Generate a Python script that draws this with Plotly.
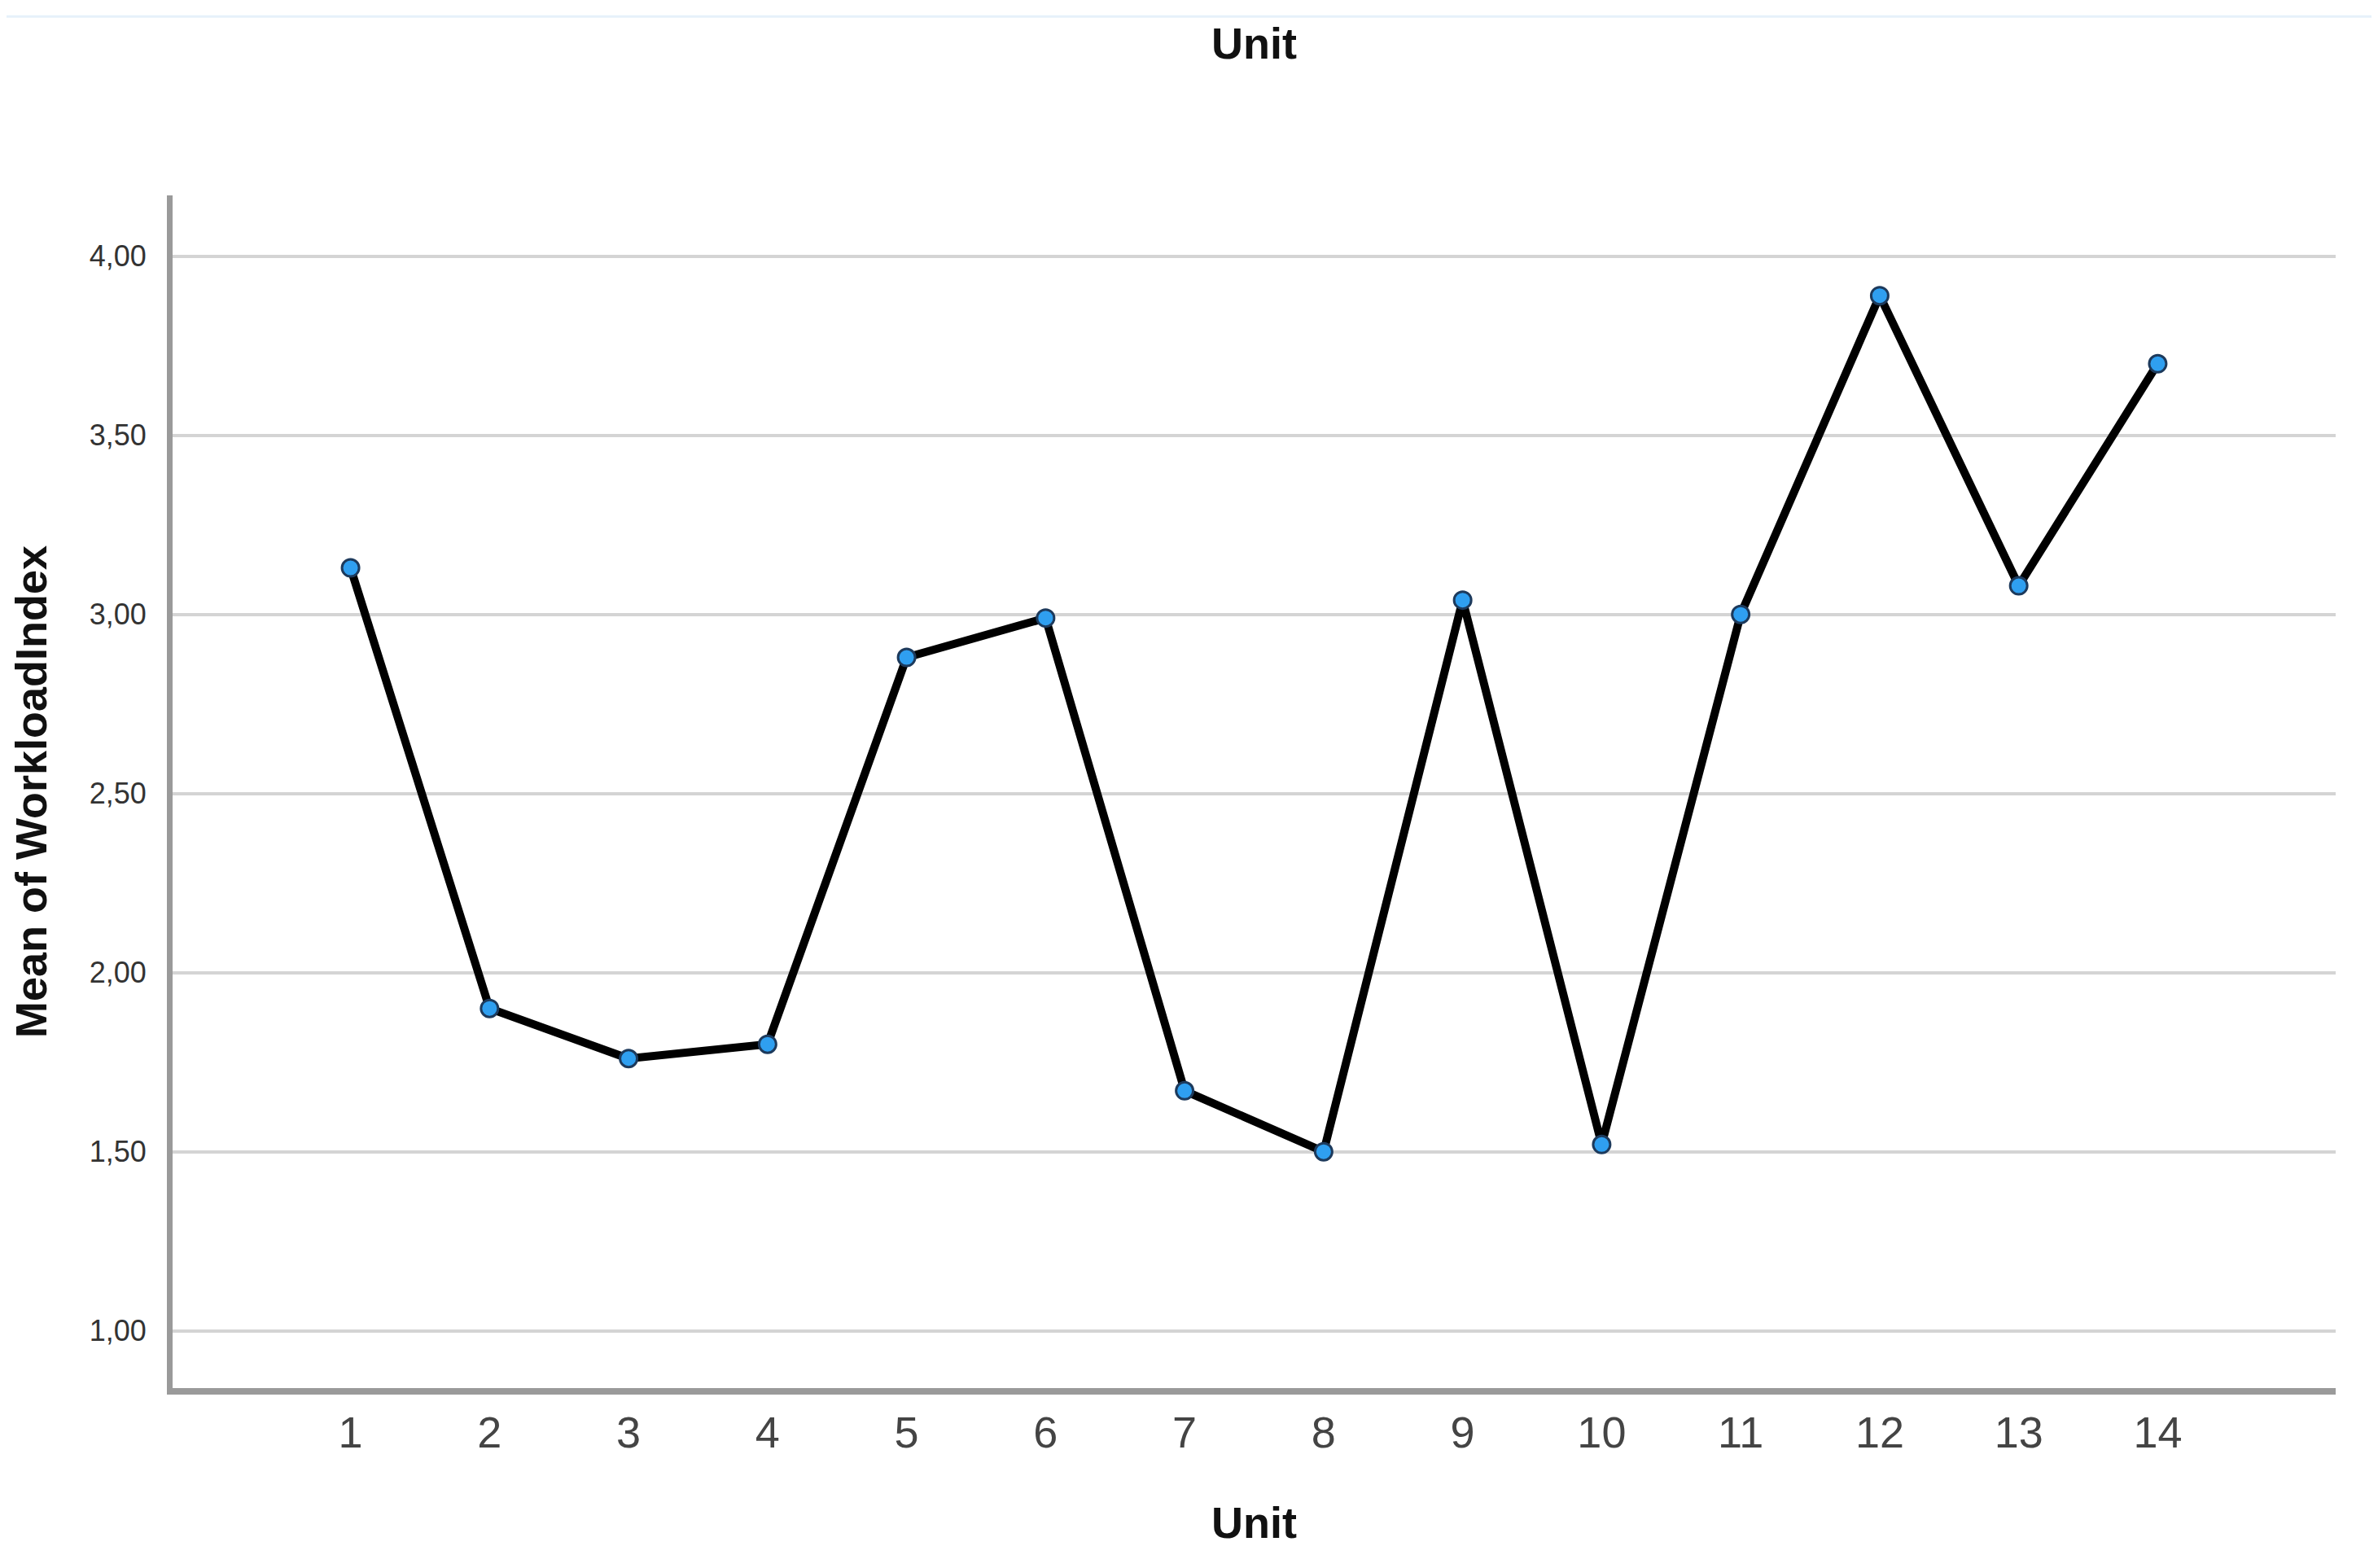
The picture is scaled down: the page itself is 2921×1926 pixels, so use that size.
import plotly.graph_objects as go

# Mean of WorkloadIndex per Unit
units = [1, 2, 3, 4, 5, 6, 7, 8, 9, 10, 11, 12, 13, 14]
mean_workload = [3.13, 1.90, 1.76, 1.80, 2.88, 2.99, 1.67, 1.50, 3.04, 1.52, 3.00, 3.89, 3.08, 3.70]
y_ticks = [1.0, 1.5, 2.0, 2.5, 3.0, 3.5, 4.0]

font_family = "Liberation Sans, Arial, sans-serif"

fig = go.Figure()

fig.add_trace(go.Scatter(
    x=units, y=mean_workload,
    mode="lines+markers",
    line=dict(color="#000000", width=10),
    marker=dict(size=21, color="#2f9ff0", line=dict(color="#1d3a5c", width=3)),
    showlegend=False,
))

fig.update_layout(
    width=2921, height=1926,
    paper_bgcolor="white", plot_bgcolor="white",
    margin=dict(l=204, r=60, t=232, b=229),
    separators=",.",
    title=dict(text="<b>Unit</b>", x=0.5, xref="paper", y=0.9765, yanchor="middle",
               font=dict(family=font_family, size=54, color="#111111")),
    font=dict(family=font_family),
    # faint line along the top of the page
    shapes=[dict(type="line", xref="paper", yref="paper", x0=-0.08, x1=1.03, y0=1.150, y1=1.150,
                 line=dict(color="#e6f1fa", width=3))],
)

fig.update_xaxes(
    range=[-0.28, 15.28],
    tickvals=units,
    ticktext=[str(u) for u in units],
    tickfont=dict(size=54, color="#444444"),
    ticks="", ticklabelstandoff=0,
    showgrid=False, zeroline=False,
    showline=True, linecolor="#9a9a9a", linewidth=8,
    title=dict(text="<b>Unit</b>", font=dict(size=54, color="#111111"), standoff=66),
)

fig.update_yaxes(
    range=[0.84, 4.17],
    tickvals=y_ticks,
    tickformat=".2f",
    tickfont=dict(size=36, color="#333333"),
    ticks="", ticklabelstandoff=18,
    showgrid=True, gridcolor="#d4d4d4", gridwidth=4,
    zeroline=False,
    showline=True, linecolor="#9a9a9a", linewidth=7,
    title=dict(text="<b>Mean of WorkloadIndex</b>", font=dict(size=54, color="#111111"), standoff=50),
)

fig.write_html("out.html")
